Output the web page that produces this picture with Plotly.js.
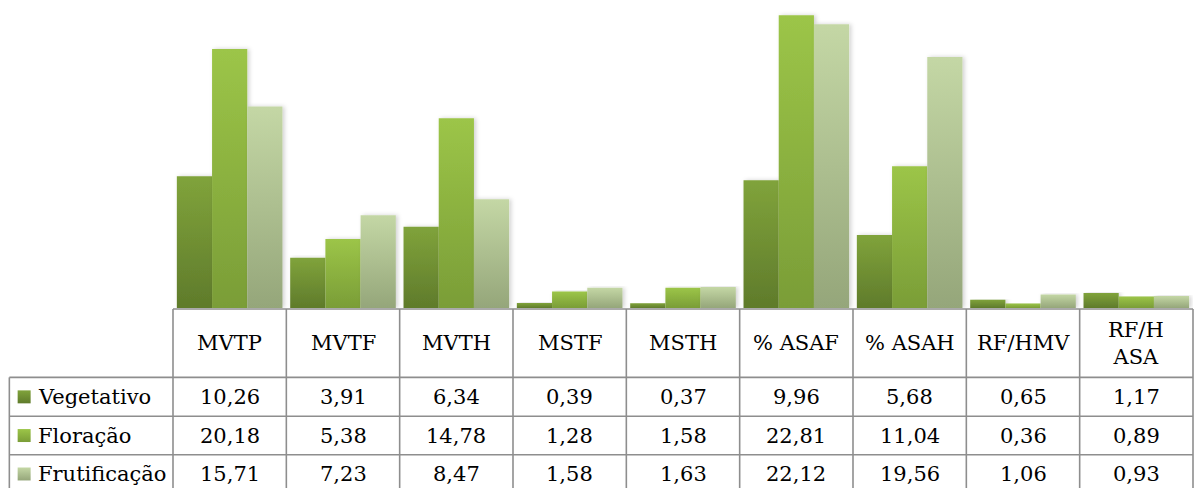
<!DOCTYPE html>
<html>
<head>
<meta charset="utf-8">
<script src="https://cdn.plot.ly/plotly-3.0.1.min.js"></script>
<style>
  html, body { margin: 0; padding: 0; background: #ffffff; }
  #chart { width: 1195px; height: 488px; }
</style>
</head>
<body>
<div id="chart"></div>
<script>
// ---- data ----
const categories = ['MVTP', 'MVTF', 'MVTH', 'MSTF', 'MSTH', '% ASAF', '% ASAH', 'RF/HMV', 'RF/H ASA'];
const headerLabels = ['MVTP', 'MVTF', 'MVTH', 'MSTF', 'MSTH', '% ASAF', '% ASAH', 'RF/HMV', 'RF/H<br>ASA'];
const seriesNames = ['Vegetativo', 'Floração', 'Frutificação'];
const vegetativo   = [10.26, 3.91, 6.34, 0.39, 0.37, 9.96, 5.68, 0.65, 1.17];
const floracao     = [20.18, 5.38, 14.78, 1.28, 1.58, 22.81, 11.04, 0.36, 0.89];
const frutificacao = [15.71, 7.23, 8.47, 1.58, 1.63, 22.12, 19.56, 1.06, 0.93];
const seriesValues = [vegetativo, floracao, frutificacao];

// ---- styling ----
const colors = ['#6f8f33', '#8bb33f', '#adbf8e'];
const gradTop = ['#80a33b', '#9cc548', '#c4d7a5'];
const gradBottom = ['#5f7b2b', '#7a9d37', '#95a67a'];
const W = 1195, H = 488;
const plotLeft = 172.7, plotRight = 1193, plotTop = 0, plotBottom = 308.5;
const plotW = plotRight - plotLeft, plotH = plotBottom - plotTop;
const rowLines = [309.5, 378, 417, 455.5, 494];
const tableLeft = 9;
const FONT = {family: 'DejaVu Serif', size: 21, color: '#000000'};
const LINE = {color: '#8e8e8e', width: 1.6};

function py(p) { return (plotBottom - p) / plotH; }
function px(p) { return (p - plotLeft) / plotW; }
function fmt(v) { return v.toFixed(2).replace('.', ','); }

const traces = seriesNames.map((name, s) => ({
  type: 'bar',
  name: name,
  x: categories,
  y: seriesValues[s],
  marker: {color: colors[s], line: {width: 0}},
  hoverinfo: 'skip'
}));

const shapes = [];
const annotations = [];
const n = categories.length;

shapes.push({type: 'line', xref: 'paper', yref: 'paper', x0: 0, x1: 1, y0: py(rowLines[0]), y1: py(rowLines[0]), line: LINE});
for (let r = 1; r < rowLines.length; r++) {
  shapes.push({type: 'line', xref: 'paper', yref: 'paper', x0: px(tableLeft), x1: 1, y0: py(rowLines[r]), y1: py(rowLines[r]), line: LINE});
}
for (let k = 0; k <= n; k++) {
  shapes.push({type: 'line', xref: 'paper', yref: 'paper', x0: k / n, x1: k / n, y0: py(rowLines[0]), y1: py(rowLines[rowLines.length - 1]), line: LINE});
}
shapes.push({type: 'line', xref: 'paper', yref: 'paper', x0: px(tableLeft), x1: px(tableLeft), y0: py(rowLines[1]), y1: py(rowLines[rowLines.length - 1]), line: LINE});

categories.forEach((c, i) => {
  annotations.push({xref: 'x', yref: 'paper', x: c, y: py((rowLines[0] + rowLines[1]) / 2),
    text: headerLabels[i], showarrow: false, font: FONT, xanchor: 'center', yanchor: 'middle'});
});
seriesNames.forEach((name, s) => {
  const yc = py((rowLines[s + 1] + rowLines[s + 2]) / 2);
  shapes.push({type: 'rect', xref: 'paper', yref: 'paper',
    x0: px(17.3), x1: px(30.3), y0: yc - 6.5 / plotH, y1: yc + 6.5 / plotH,
    fillcolor: colors[s], line: {width: 0}});
  annotations.push({xref: 'paper', yref: 'paper', x: px(35.5), y: yc, text: name, showarrow: false,
    font: FONT, xanchor: 'left', yanchor: 'middle'});
  categories.forEach((c, i) => {
    annotations.push({xref: 'x', yref: 'paper', x: c, y: yc, text: fmt(seriesValues[s][i]),
      showarrow: false, font: FONT, xanchor: 'center', yanchor: 'middle'});
  });
});

const layout = {
  width: W, height: H,
  margin: {l: plotLeft, r: W - plotRight, t: plotTop, b: H - plotBottom, pad: 0},
  paper_bgcolor: '#ffffff', plot_bgcolor: '#ffffff',
  barmode: 'group', bargap: 0.068, bargroupgap: 0,
  showlegend: false,
  xaxis: {type: 'category', range: [-0.5, n - 0.5], showticklabels: false, showgrid: false,
    zeroline: false, showline: false, ticks: ''},
  yaxis: {range: [0, 24], showticklabels: false, showgrid: false, zeroline: false, showline: false, ticks: ''},
  shapes: shapes,
  annotations: annotations,
  font: FONT
};

function hexToRgb(h) {
  const v = parseInt(h.slice(1), 16);
  return 'rgb(' + ((v >> 16) & 255) + ', ' + ((v >> 8) & 255) + ', ' + (v & 255) + ')';
}

// Excel-like vertical gradients and soft shadow, applied to the bars Plotly drew
function applyGradients() {
  const svg = document.querySelector('#chart .main-svg');
  if (!svg) return;
  const NS = 'http://www.w3.org/2000/svg';
  let defs = svg.querySelector('defs');
  if (!defs) { defs = document.createElementNS(NS, 'defs'); svg.insertBefore(defs, svg.firstChild); }
  colors.forEach((c, s) => {
    const g = document.createElementNS(NS, 'linearGradient');
    g.setAttribute('id', 'xlgrad' + s);
    g.setAttribute('x1', '0'); g.setAttribute('y1', '0'); g.setAttribute('x2', '0'); g.setAttribute('y2', '1');
    const s1 = document.createElementNS(NS, 'stop'); s1.setAttribute('offset', '0'); s1.setAttribute('stop-color', gradTop[s]);
    const s2 = document.createElementNS(NS, 'stop'); s2.setAttribute('offset', '1'); s2.setAttribute('stop-color', gradBottom[s]);
    g.appendChild(s1); g.appendChild(s2); defs.appendChild(g);
  });
  const f = document.createElementNS(NS, 'filter');
  f.setAttribute('id', 'xlshadow'); f.setAttribute('x', '-20%'); f.setAttribute('y', '-5%');
  f.setAttribute('width', '150%'); f.setAttribute('height', '110%');
  const ds = document.createElementNS(NS, 'feDropShadow');
  ds.setAttribute('dx', '2'); ds.setAttribute('dy', '0'); ds.setAttribute('stdDeviation', '2');
  ds.setAttribute('flood-color', '#000'); ds.setAttribute('flood-opacity', '0.18');
  f.appendChild(ds); defs.appendChild(f);

  const traceGroups = document.querySelectorAll('#chart .barlayer .trace');
  traceGroups.forEach((tg, s) => {
    tg.querySelectorAll('path').forEach(p => {
      p.style.fill = 'url(#xlgrad' + s + ')';
      p.style.filter = 'url(#xlshadow)';
    });
  });
  const rgbs = colors.map(hexToRgb);
  document.querySelectorAll('#chart .shapelayer path').forEach(p => {
    const idx = rgbs.indexOf(p.style.fill);
    if (idx >= 0) p.style.fill = 'url(#xlgrad' + idx + ')';
  });
}

Plotly.newPlot('chart', traces, layout, {displayModeBar: false, staticPlot: true}).then(applyGradients);
</script>
</body>
</html>
